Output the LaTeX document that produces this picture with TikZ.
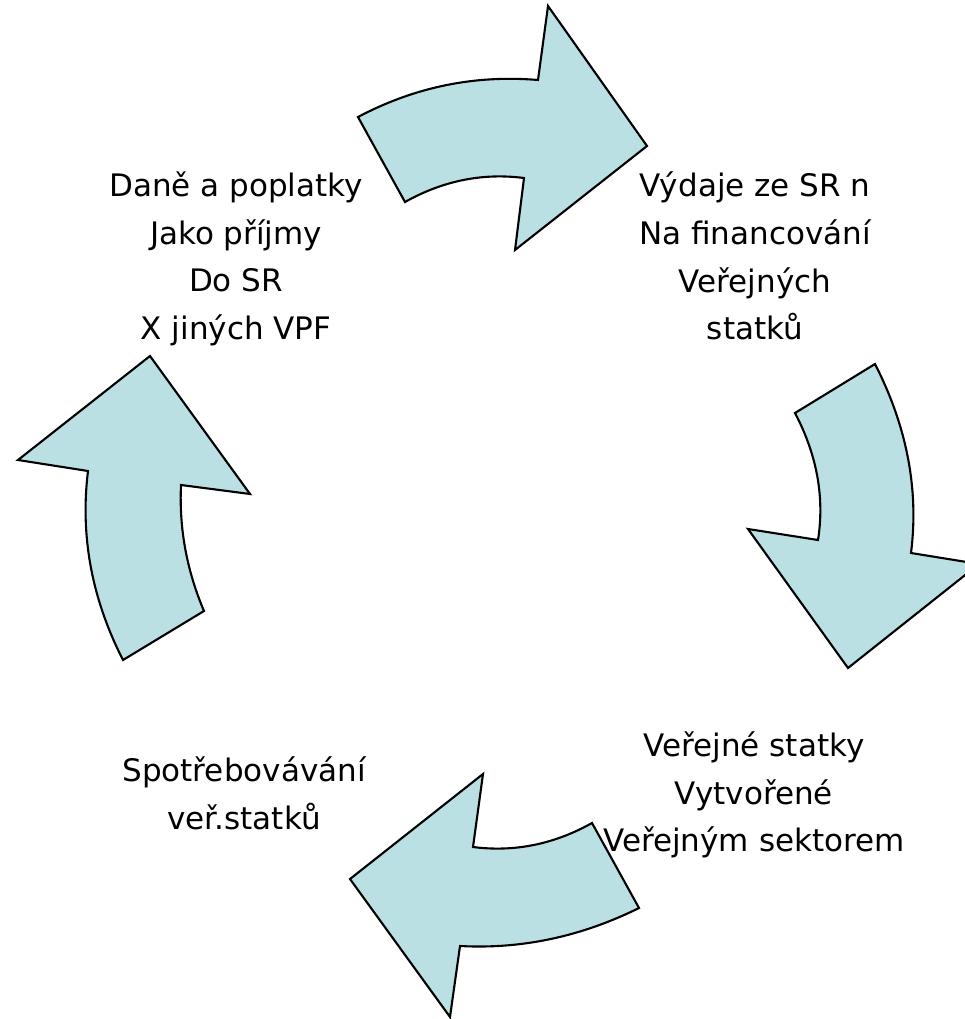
\documentclass[tikz,border=0pt]{standalone}
\usepackage{fontspec}
\setmainfont{DejaVu Sans}
\usetikzlibrary{positioning}
\definecolor{cyclefill}{RGB}{186,224,227}
\tikzset{
    x=1pt, y=-1pt, % one unit is one pixel of the slide, y runs downward
    cycletext/.style={align=center, inner sep=0pt, font=\fontsize{31}{47.7}\selectfont}, % the four labels
    cyclearrow/.style={draw=black, fill=cyclefill, line width=2.1pt, line join=miter}, % the curved block arrows
}
\begin{document}
\begin{tikzpicture}
    \useasboundingbox (0,0) rectangle (965,1019);
    \clip (0,0) rectangle (965,1019);
    % arrows, clockwise from the top
    \draw[cyclearrow] (358,117) .. controls (414.7,87) and (474.7,74.7) .. (538,80) -- (548,6) -- (647,146)
        -- (515,250) -- (524,178) .. controls (482.7,172.7) and (443,180.7) .. (405,202) -- cycle;
    \draw[cyclearrow] (875,364) .. controls (907,426.7) and (919,489.7) .. (911,553) -- (979,564) -- (848,668)
        -- (748,529) -- (818,540) .. controls (824.7,497.3) and (817,455) .. (795,413) -- cycle;
    \draw[cyclearrow] (639,908) .. controls (581,936.7) and (521.3,949.3) .. (460,946) -- (450,1017) -- (350,879)
        -- (483,774) -- (473,847) .. controls (514.3,852.3) and (554,844.3) .. (592,823) -- cycle;
    \draw[cyclearrow] (123,660) .. controls (91.7,598.7) and (80,535.7) .. (88,471) -- (18,460) -- (150,356)
        -- (250,494) -- (181,485) .. controls (179,528.3) and (186.7,570.3) .. (204,611) -- cycle;
    % labels
    \node[cycletext] (taxes) at (236,259) {Daně a poplatky\\Jako příjmy\\Do SR\\X jiných VPF};
    \node[cycletext] (spending) at (755,256) {Výdaje ze SR n\\Na financování\\Veřejných\\statků};
    \node[cycletext] (goods) at (754,795) {Veřejné statky\\Vytvořené\\Veřejným sektorem};
    \node[cycletext] (use) at (244,793) {Spotřebovávání\\veř.statků};
\end{tikzpicture}
\end{document}
